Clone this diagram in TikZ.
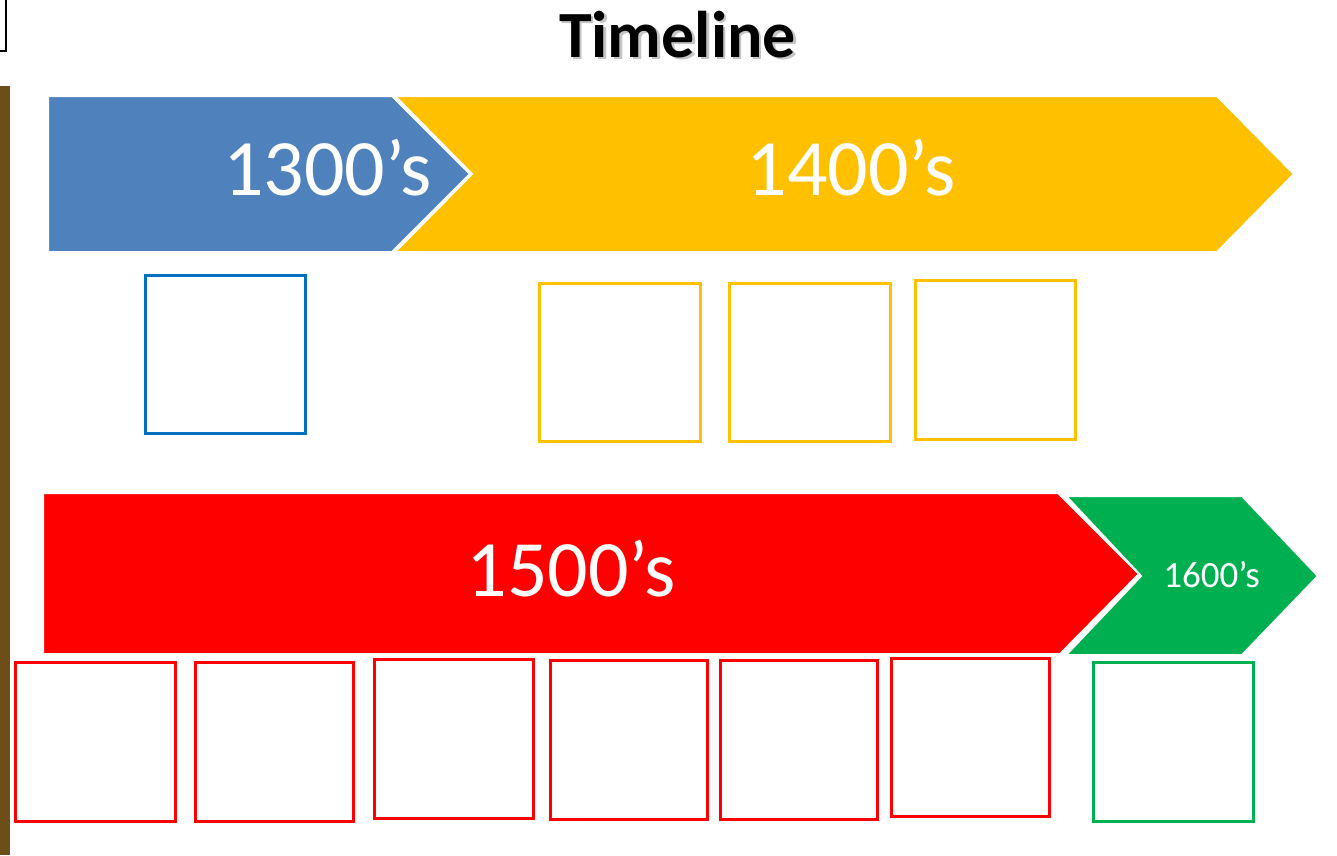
\documentclass[tikz,border=0pt]{standalone}
\usepackage{fontspec}
\setmainfont{Carlito}
\definecolor{cblue}{HTML}{4F81BD}
\definecolor{cyellow}{HTML}{FFC000}
\definecolor{cred}{HTML}{FF0000}
\definecolor{cgreen}{HTML}{00B050}
\definecolor{bblue}{HTML}{0070C0}
\definecolor{cbrown}{HTML}{6E4E18}
\tikzset{
  shapefill/.style={fill=#1, draw=white, line width=2pt, line join=miter},
  slotbox/.style={draw=#1, line width=3pt, minimum width=160pt, minimum height=159pt, inner sep=0pt, fill=white},
  bigtxt/.style={text=white, font=\fontsize{80}{80}\selectfont, anchor=base, inner sep=0pt},
}
\begin{document}
\begin{tikzpicture}[x=1pt,y=-1pt]
\useasboundingbox (0,0) rectangle (1337,855);
\fill[white] (0,0) rectangle (1337,855);
% left edge strip and corner frame
\fill[cbrown] (0,86) rectangle (10,855);
\draw[black, line width=2.5pt] (-5,51) -- (6,51) -- (6,-5);
% title
\node[anchor=base, inner sep=0pt, text=black!45, opacity=0.5, font=\bfseries\fontsize{66}{66}\selectfont] at (680,59.5) {Timeline};
\node[anchor=base, inner sep=0pt, font=\bfseries\fontsize{66}{66}\selectfont] (title) at (677.5,57) {Timeline};
% top row arrows
\path[shapefill=cyellow] (395,96) -- (1217,96) -- (1294,174) -- (1217,252) -- (395,252) -- (472,174) -- cycle;
\path[shapefill=cblue] (48,96) -- (392,96) -- (470,174) -- (392,252) -- (48,252) -- cycle;
\node[bigtxt] (t1300) at (327.5,195) {1300’s};
\node[bigtxt] (t1400) at (851,195) {1400’s};
% bottom row arrows
\path[shapefill=cgreen] (1066,496) -- (1242,496) -- (1318,576) -- (1242,655) -- (1066,655) -- (1141,576) -- cycle;
\path[shapefill=cred] (43,493) -- (1058,493) -- (1139,574) -- (1060,654) -- (43,654) -- cycle;
\node[bigtxt] (t1500) at (571,596) {1500’s};
\node[text=white, anchor=base, inner sep=0pt, font=\fontsize{37}{37}\selectfont] (t1600) at (1211.5,587) {1600’s};
% boxes
\node[slotbox=bblue, minimum height=158pt] (b1) at (225.5,354.5) {};
\node[slotbox=cyellow, minimum width=161pt, minimum height=158pt] (y1) at (620,362.5) {};
\node[slotbox=cyellow, minimum width=161pt, minimum height=158pt] (y2) at (810,362.5) {};
\node[slotbox=cyellow] (y3) at (995.5,359.5) {};
\node[slotbox=cred] (r1) at (95.5,741.5) {};
\node[slotbox=cred, minimum width=158pt] (r2) at (274.5,742) {};
\node[slotbox=cred, minimum width=159pt] (r3) at (454,739) {};
\node[slotbox=cred, minimum width=157pt] (r4) at (629,740) {};
\node[slotbox=cred, minimum width=157pt] (r5) at (799,740) {};
\node[slotbox=cred, minimum width=158pt, minimum height=158pt] (r6) at (970.5,737.5) {};
\node[slotbox=cgreen] (g1) at (1173.5,742) {};
\end{tikzpicture}
\end{document}
